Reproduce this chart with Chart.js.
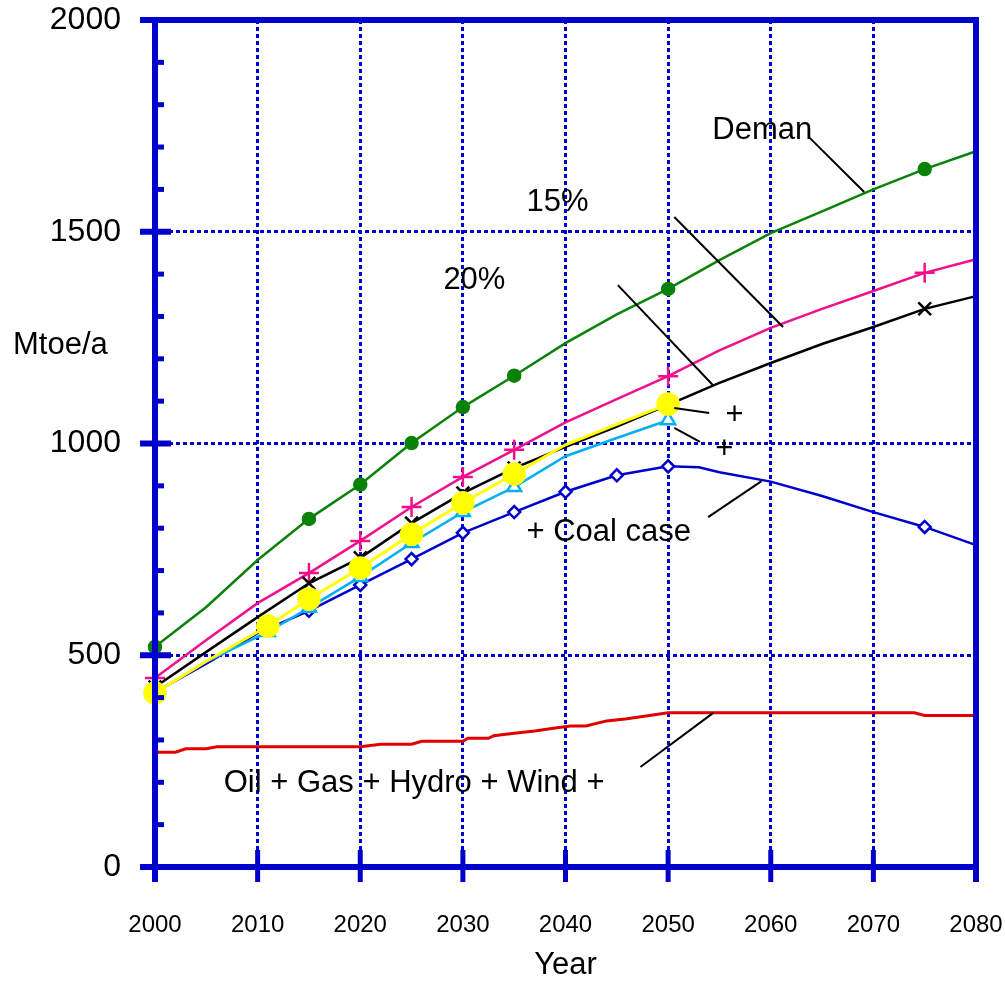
<!DOCTYPE html>
<html>
<head>
<meta charset="utf-8">
<title>Mtoe/a</title>
<script src="https://cdn.jsdelivr.net/npm/chart.js@4.4.1/dist/chart.umd.min.js"></script>
<style>
  html, body { margin: 0; padding: 0; background: #fff; }
  canvas { display: block; }
</style>
</head>
<body>
<canvas id="chart" width="1005" height="984"></canvas>
<script>
// Values (Mtoe/a per year)
const demandYears   = [2000, 2005, 2010, 2015, 2020, 2025, 2030, 2035, 2040, 2045, 2050, 2055, 2060, 2065, 2070, 2075, 2080];
const demandValues  = [520, 614, 725, 822, 903, 1001, 1086, 1160, 1237, 1305, 1365, 1433, 1497, 1548, 1600, 1648, 1690];
const demandMarks   = [2000, 2015, 2020, 2025, 2030, 2035, 2050, 2075];

const pinkYears     = [2000, 2005, 2010, 2015, 2020, 2025, 2030, 2035, 2040, 2045, 2050, 2055, 2060, 2065, 2070, 2075, 2080];
const pinkValues    = [446, 536, 623, 694, 770, 850, 921, 985, 1050, 1105, 1159, 1220, 1273, 1318, 1360, 1403, 1435];
const pinkMarks     = [2000, 2015, 2020, 2025, 2030, 2035, 2050, 2075];

const blackYears    = [2000, 2005, 2010, 2015, 2020, 2025, 2030, 2035, 2040, 2045, 2050, 2055, 2060, 2065, 2070, 2075, 2080];
const blackValues   = [425, 508, 590, 670, 730, 812, 883, 942, 992, 1040, 1091, 1143, 1190, 1235, 1275, 1318, 1348];
const blackMarks    = [2000, 2015, 2020, 2025, 2030, 2035, 2050, 2075];

const yellowYears   = [2000, 2005, 2011, 2015, 2020, 2025, 2030, 2035, 2040, 2045, 2050];
const yellowValues  = [411, 486, 569, 633, 706, 786, 860, 928, 997, 1045, 1093];
const yellowMarks   = [2000, 2011, 2015, 2020, 2025, 2030, 2035, 2050];

const cyanYears     = [2000, 2005, 2011, 2015, 2020, 2025, 2030, 2035, 2040, 2045, 2050];
const cyanValues    = [411, 485, 555, 612, 685, 765, 838, 897, 970, 1013, 1055];
const cyanMarks     = [2000, 2011, 2015, 2020, 2025, 2030, 2035, 2050];

const coalYears     = [2000, 2005, 2010, 2015, 2020, 2025, 2030, 2035, 2040, 2045, 2050, 2053, 2055, 2060, 2065, 2070, 2075, 2080];
const coalValues    = [413, 480, 552, 605, 666, 727, 789, 838, 886, 925, 946, 944, 932, 910, 876, 838, 803, 760];
const coalMarks     = [2015, 2020, 2025, 2030, 2035, 2040, 2045, 2050, 2075];

const baseYears     = [2000, 2002, 2003, 2005, 2006, 2020, 2022, 2025, 2026, 2030, 2030.5, 2032.5, 2033, 2035, 2037, 2039, 2040.5, 2042, 2044, 2046, 2048, 2050, 2074, 2075, 2080];
const baseValues    = [271, 271, 279, 279, 284, 284, 290, 290, 297, 297, 304, 304, 310, 316, 321, 328, 333, 333, 345, 350, 357, 364, 364, 358, 358];

const xTicks = { min: 2000, max: 2080, step: 10 };
const yTicks = { min: 0, max: 2000, step: 500, minor: 100 };

// Labels drawn inside the plot: [text, year, value]
const labels = [
  ['Deman', 2054.3, 1740],
  ['15%', 2036.2, 1568],
  ['20%', 2028.1, 1386],
  ['+', 2055.6, 1067],
  ['+', 2054.6, 987],
  ['+ Coal case', 2036.2, 791],
  ['Oil + Gas + Hydro + Wind +', 2006.7, 198]
];
// Leader lines: [year1, value1, year2, value2]
const leaders = [
  [2063.7, 1724, 2069.1, 1594],
  [2050.6, 1535, 2061.2, 1275],
  [2045.1, 1374, 2054.4, 1137],
  [2050.6, 1084, 2054.0, 1072],
  [2050.6, 1037, 2053.1, 1004],
  [2053.9, 826, 2059.1, 911],
  [2047.3, 236, 2054.4, 364]
];

const BLUE = '#0000cc';
const FONT = 'Liberation Sans, Arial, sans-serif';

function pts(xs, ys) {
  return xs.map((x, i) => ({ x: x, y: ys[i] }));
}

function series(xs, ys, marks, color, width, style, radius, fill) {
  return {
    data: pts(xs, ys),
    borderColor: color,
    borderWidth: width,
    pointStyle: style,
    pointRadius: ctx => (marks.includes(ctx.raw.x) ? radius : 0),
    pointHoverRadius: 0,
    pointBorderColor: color,
    pointBackgroundColor: fill,
    pointBorderWidth: 2.5,
    showLine: true,
    tension: 0,
    clip: false
  };
}

// fixed axis box so the plot area lands where the original one is
function fixBox(size, horizontal) {
  return s => {
    if (horizontal) s.height = size; else s.width = size;
    s.paddingTop = 0;
    s.paddingBottom = 0;
    s.paddingLeft = 0;
    s.paddingRight = 0;
  };
}

const framePlugin = {
  id: 'frame',
  afterDatasetsDraw(chart) {
    const { ctx, chartArea: a, scales: { x, y } } = chart;
    const seg = (x1, y1, x2, y2, w) => {
      ctx.lineWidth = w;
      ctx.beginPath();
      ctx.moveTo(x1, y1);
      ctx.lineTo(x2, y2);
      ctx.stroke();
    };
    ctx.save();
    ctx.strokeStyle = BLUE;
    ctx.lineCap = 'butt';
    // minor ticks on y
    for (let v = yTicks.min + yTicks.minor; v < yTicks.max; v += yTicks.minor) {
      if (v % yTicks.step === 0) continue;
      const py = y.getPixelForValue(v);
      seg(a.left, py, a.left + 9, py, 5);
    }
    // major ticks on y
    for (let v = yTicks.min; v <= yTicks.max; v += yTicks.step) {
      const py = y.getPixelForValue(v);
      seg(a.left - 15, py, a.left + 16, py, 6);
    }
    // ticks on x
    for (let v = xTicks.min; v <= xTicks.max; v += xTicks.step) {
      const px = x.getPixelForValue(v);
      seg(px, a.bottom - 17, px, a.bottom + 15, 5);
    }
    // box
    seg(a.left - 15, a.top, a.right + 3, a.top, 6);
    seg(a.left - 15, a.bottom, a.right + 3, a.bottom, 6);
    seg(a.left, a.top - 3, a.left, a.bottom + 15, 6);
    seg(a.right, a.top - 3, a.right, a.bottom + 15, 6);
    ctx.restore();
  },
  afterDraw(chart) {
    const { ctx, chartArea: a, scales: { x, y } } = chart;
    ctx.save();
    ctx.strokeStyle = '#000';
    ctx.lineWidth = 2;
    for (const l of leaders) {
      ctx.beginPath();
      ctx.moveTo(x.getPixelForValue(l[0]), y.getPixelForValue(l[1]));
      ctx.lineTo(x.getPixelForValue(l[2]), y.getPixelForValue(l[3]));
      ctx.stroke();
    }
    ctx.fillStyle = '#000';
    ctx.font = '31px ' + FONT;
    ctx.textBaseline = 'middle';
    ctx.textAlign = 'left';
    for (const t of labels) {
      ctx.fillText(t[0], x.getPixelForValue(t[1]), y.getPixelForValue(t[2]));
    }
    // horizontal y axis title
    ctx.fillText('Mtoe/a', a.left - 142, y.getPixelForValue(1232));
    ctx.restore();
  }
};

new Chart(document.getElementById('chart'), {
  type: 'scatter',
  data: {
    datasets: [
      series(yellowYears, yellowValues, yellowMarks, '#ffff00', 3, 'circle', 10.5, '#ffff00'),
      series(blackYears, blackValues, blackMarks, '#000000', 2.5, 'crossRot', 9, '#000000'),
      series(cyanYears, cyanValues, cyanMarks, '#00b0f0', 2.5, 'triangle', 8, '#ffffff'),
      series(pinkYears, pinkValues, pinkMarks, '#f0108c', 2.5, 'cross', 10, '#f0108c'),
      series(demandYears, demandValues, demandMarks, '#0a820a', 2.5, 'circle', 6, '#0a820a'),
      series(coalYears, coalValues, coalMarks, '#0000cc', 2.5, 'rectRot', 6, '#ffffff'),
      series(baseYears, baseValues, [], '#e00000', 3, 'circle', 0, '#e00000')
    ]
  },
  options: {
    responsive: false,
    devicePixelRatio: 1,
    animation: false,
    events: [],
    layout: { padding: { top: 20, right: 29, left: 0, bottom: 0 } },
    plugins: { legend: { display: false }, tooltip: { enabled: false } },
    scales: {
      x: {
        type: 'linear',
        min: xTicks.min,
        max: xTicks.max,
        afterFit: fixBox(117, true),
        border: { display: false, dash: [4, 3] },
        grid: {
          color: c => (c.tick && (c.tick.value === xTicks.min || c.tick.value === xTicks.max) ? 'rgba(0,0,0,0)' : BLUE),
          lineWidth: 3,
          drawTicks: false
        },
        ticks: {
          stepSize: xTicks.step,
          padding: 44,
          color: '#000',
          font: { family: FONT, size: 24 },
          callback: v => String(v)
        },
        title: { display: true, text: 'Year', color: '#000', font: { family: FONT, size: 31 }, padding: 0 }
      },
      y: {
        type: 'linear',
        min: yTicks.min,
        max: yTicks.max,
        afterFit: fixBox(155, false),
        border: { display: false, dash: [4, 3] },
        grid: {
          color: c => (c.tick && (c.tick.value === yTicks.min || c.tick.value === yTicks.max) ? 'rgba(0,0,0,0)' : BLUE),
          lineWidth: 3,
          drawTicks: false
        },
        ticks: {
          stepSize: yTicks.step,
          padding: 34,
          color: '#000',
          font: { family: FONT, size: 32 },
          callback: v => String(v)
        }
      }
    }
  },
  plugins: [framePlugin]
});
</script>
</body>
</html>
